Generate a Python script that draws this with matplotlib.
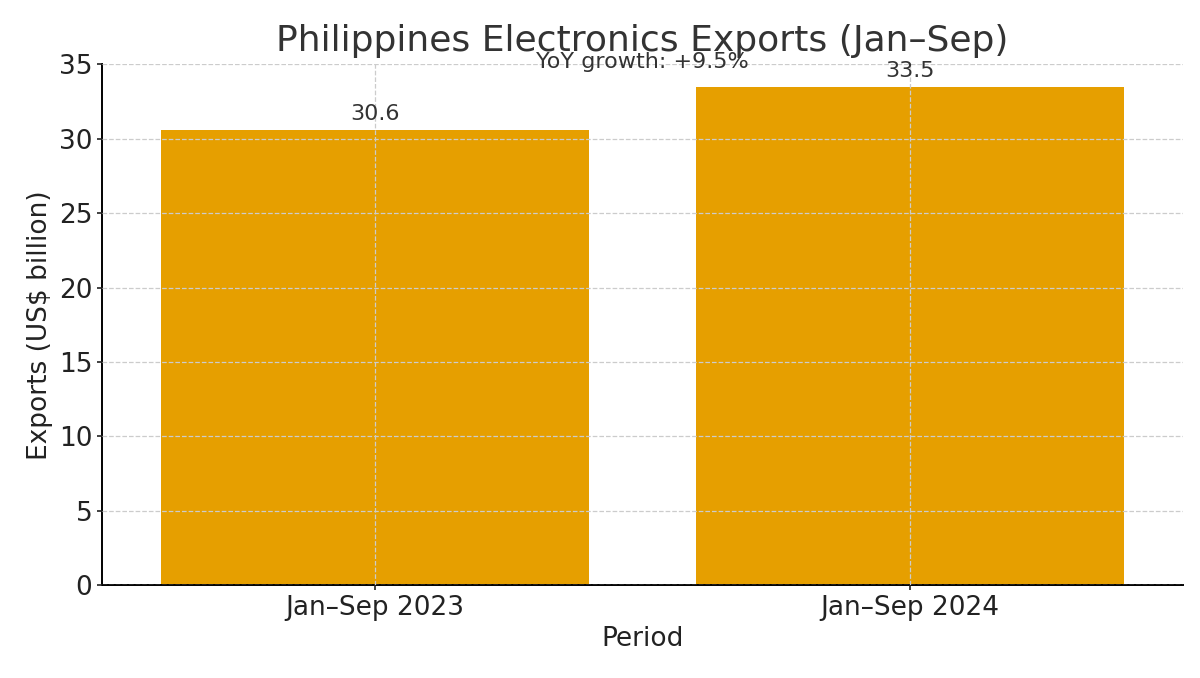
import matplotlib
matplotlib.use("Agg")
import matplotlib.pyplot as plt

periods = ["Jan–Sep 2023", "Jan–Sep 2024"]
exports = [30.6, 33.5]
yoy_label = "YoY growth: +9.5%"

fig = plt.figure(figsize=(12, 6.78), dpi=100)
ax = fig.add_axes([0.085, 0.137, 0.901, 0.768])
x = range(len(periods))
ax.bar(x, exports, width=0.8, color="#E69F00", zorder=2)
ax.set_xlim(-0.51, 1.51)
ax.set_ylim(0, 35)
ax.set_xticks(list(x))
ax.set_xticklabels(periods)
ax.grid(True, linestyle="--", color="#cccccc", linewidth=0.9, zorder=3)
ax.set_axisbelow(False)
for s in ["top", "right"]:
    ax.spines[s].set_visible(False)
for s in ["left", "bottom"]:
    ax.spines[s].set_linewidth(1.4)
ax.tick_params(labelsize=19, colors="#222222", width=1.2)
for i, v in enumerate(exports):
    ax.text(i, v + 0.4, f"{v:.1f}", ha="center", va="bottom", fontsize=16, color="#333333")
ax.text(0.5, 1.005, yoy_label, transform=ax.transAxes, ha="center", va="center",
        fontsize=16, color="#333333")
ax.set_title("Philippines Electronics Exports (Jan–Sep)", fontsize=26, color="#333333", pad=10)
ax.set_xlabel("Period", fontsize=19, color="#222222")
ax.set_ylabel("Exports (US$ billion)", fontsize=19, color="#222222")
fig.savefig("out.png", dpi=100)
